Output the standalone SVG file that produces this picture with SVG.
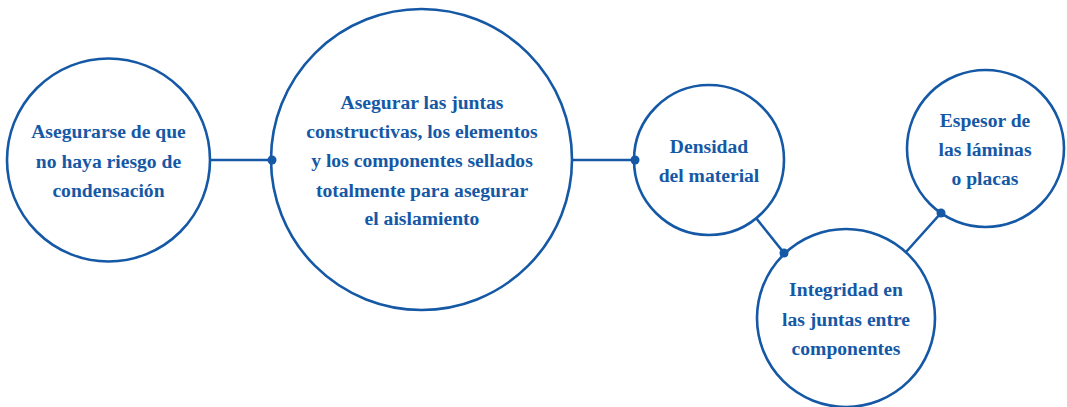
<svg xmlns="http://www.w3.org/2000/svg" width="1067" height="407" viewBox="0 0 1067 407">
<style>
.n{fill:#fff;stroke:#1558a5;stroke-width:2.6}
.t{font-family:'Liberation Serif','DejaVu Serif',serif;font-weight:bold;font-size:19.6px;fill:#1558a5;text-anchor:middle}
.c{stroke:#1558a5;stroke-width:2.6;fill:none}
.d{fill:#1558a5}
</style>
<rect width="1067" height="407" fill="#fff"/>
<g id="connectors">
<line class="c" x1="210" y1="160" x2="272" y2="160"/>
<line class="c" x1="572" y1="160" x2="635" y2="160"/>
<line class="c" x1="756" y1="218" x2="784" y2="253"/>
<line class="c" x1="906" y1="252" x2="941" y2="213"/>
</g>
<g id="node1">
<circle class="n" cx="108.5" cy="160" r="101.5"/>
<text class="t" x="108.5" y="138">Asegurarse de que</text>
<text class="t" x="108.5" y="168">no haya riesgo de</text>
<text class="t" x="108.5" y="197">condensación</text>
</g>
<g id="node2">
<circle class="n" cx="421.5" cy="159.5" r="150.5"/>
<text class="t" x="422" y="109">Asegurar las juntas</text>
<text class="t" x="422" y="138">constructivas, los elementos</text>
<text class="t" x="422" y="167">y los componentes sellados</text>
<text class="t" x="422" y="197">totalmente para asegurar</text>
<text class="t" x="422" y="225">el aislamiento</text>
</g>
<g id="node3">
<circle class="n" cx="709" cy="160" r="75"/>
<text class="t" x="709" y="153">Densidad</text>
<text class="t" x="709" y="182">del material</text>
</g>
<g id="node4">
<circle class="n" cx="846" cy="318" r="89"/>
<text class="t" x="846" y="296">Integridad en</text>
<text class="t" x="846" y="326">las juntas entre</text>
<text class="t" x="846" y="355">componentes</text>
</g>
<g id="node5">
<circle class="n" cx="985.5" cy="148.5" r="78.5"/>
<text class="t" x="985" y="127">Espesor de</text>
<text class="t" x="985" y="156">las láminas</text>
<text class="t" x="985" y="185">o placas</text>
</g>
<g id="dots">
<circle class="d" cx="272" cy="160" r="4.5"/>
<circle class="d" cx="635" cy="160" r="4.5"/>
<circle class="d" cx="784" cy="253" r="4.5"/>
<circle class="d" cx="941" cy="213" r="4.5"/>
</g>
</svg>
